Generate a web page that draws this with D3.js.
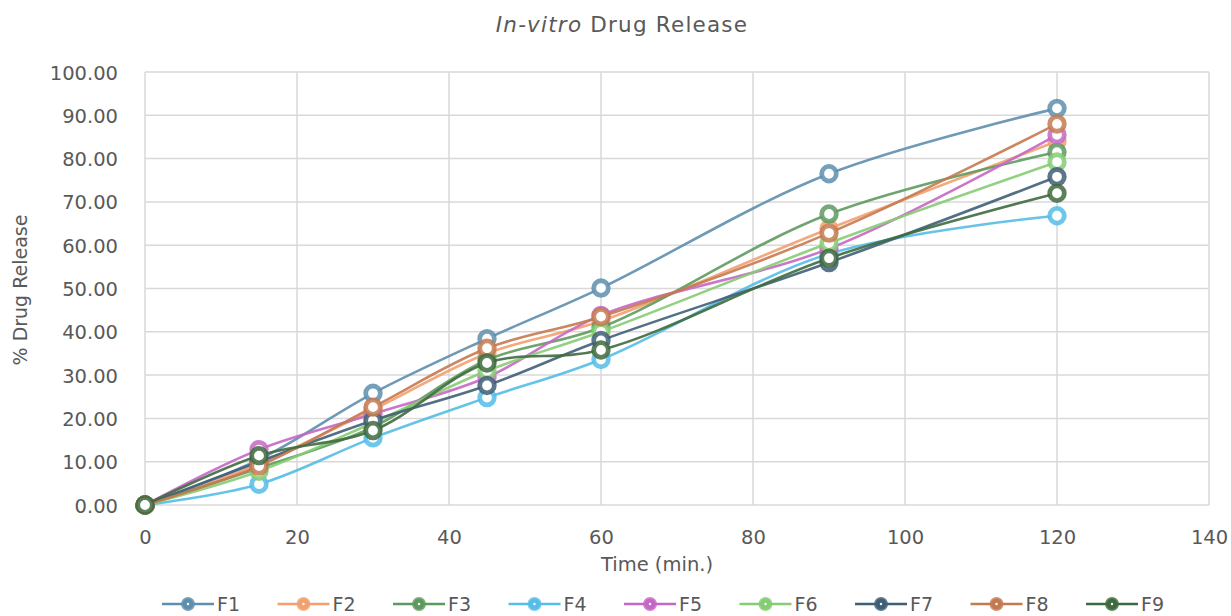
<!DOCTYPE html>
<html>
<head>
<meta charset="utf-8">
<script src="https://cdn.jsdelivr.net/npm/d3@7"></script>
<style>
  html, body { margin: 0; padding: 0; background: #fff; }
  svg text { font-family: "DejaVu Sans", "Open Sans", sans-serif; fill: #595959; }
</style>
</head>
<body>
<svg id="chart" width="1231" height="616"></svg>
<script>
// Sampling times (min.)
const time = [0, 15, 30, 45, 60, 90, 120];

// Cumulative % drug release for each formulation
const F1 = [0, 10.5, 25.8, 38.4, 50.1, 76.5, 91.6];
const F2 = [0, 9.5, 22.0, 35.0, 42.5, 63.8, 84.0];
const F3 = [0, 8.5, 18.0, 33.5, 41.0, 67.2, 81.5];
const F4 = [0, 4.8, 15.5, 24.8, 33.6, 58.0, 66.8];
const F5 = [0, 12.8, 21.0, 29.5, 43.8, 59.2, 85.5];
const F6 = [0, 7.8, 19.0, 31.0, 40.0, 60.5, 79.2];
const F7 = [0, 10.0, 19.5, 27.6, 38.0, 56.0, 75.8];
const F8 = [0, 9.0, 22.6, 36.2, 43.5, 62.8, 88.0];
const F9 = [0, 11.4, 17.2, 32.8, 35.8, 57.0, 72.0];

const seriesNames = ["F1", "F2", "F3", "F4", "F5", "F6", "F7", "F8", "F9"];
const seriesValues = [F1, F2, F3, F4, F5, F6, F7, F8, F9];
const seriesColors = ["#5e8fae", "#f2a070", "#5e9a5e", "#55bde6", "#c567c5",
                      "#86cc73", "#3f5f77", "#c47a50", "#3f6a3f"];

const xTicks = [0, 20, 40, 60, 80, 100, 120, 140];
const yTicks = [0, 10, 20, 30, 40, 50, 60, 70, 80, 90, 100];

const svg = d3.select("#chart");
const margin = { left: 145, right: 22, top: 72, bottom: 111 };
const W = 1231, H = 616;

const x = d3.scaleLinear().domain([0, 140]).range([margin.left, W - margin.right]);
const y = d3.scaleLinear().domain([0, 100]).range([H - margin.bottom, margin.top]);

// Gridlines
svg.append("g")
  .selectAll("line.h")
  .data(yTicks)
  .join("line")
  .attr("x1", x(0)).attr("x2", x(140))
  .attr("y1", d => y(d)).attr("y2", d => y(d))
  .attr("stroke", "#d9d9d9").attr("stroke-width", 1.5);

svg.append("g")
  .selectAll("line.v")
  .data(xTicks)
  .join("line")
  .attr("x1", d => x(d)).attr("x2", d => x(d))
  .attr("y1", y(0)).attr("y2", y(100))
  .attr("stroke", "#d9d9d9").attr("stroke-width", 1.5);

// Axes (labels only; the lines come from the grid)
const yAxis = svg.append("g")
  .attr("transform", `translate(${x(0) - 24},0)`)
  .call(d3.axisLeft(y).tickValues(yTicks).tickFormat(d3.format(".2f")).tickSize(0));
yAxis.select(".domain").remove();
yAxis.selectAll("text").attr("font-size", 19.5).attr("font-family", null).attr("dy", "0.36em");

const xAxis = svg.append("g")
  .attr("transform", `translate(0,${y(0) + 22})`)
  .call(d3.axisBottom(x).tickValues(xTicks).tickFormat(d3.format("d")).tickSize(0));
xAxis.select(".domain").remove();
xAxis.selectAll("text").attr("font-size", 19.5).attr("font-family", null);

// Title
const title = svg.append("text")
  .attr("x", 622).attr("y", 32)
  .attr("text-anchor", "middle")
  .attr("font-size", 21.5)
  .attr("letter-spacing", 1.2);
title.append("tspan").attr("font-style", "italic").text("In-vitro");
title.append("tspan").text(" Drug Release");

// Axis titles
svg.append("text")
  .attr("x", 657).attr("y", 571)
  .attr("text-anchor", "middle")
  .attr("font-size", 19.5)
  .text("Time (min.)");

svg.append("text")
  .attr("transform", `translate(27,290) rotate(-90)`)
  .attr("text-anchor", "middle")
  .attr("font-size", 19)
  .text("% Drug Release");

// Smoothed series lines and ring markers
const line = d3.line()
  .x((d, i) => x(time[i]))
  .y(d => y(d))
  .curve(d3.curveCatmullRom.alpha(0.5));

const seriesG = svg.append("g");
seriesValues.forEach((vals, k) => {
  const g = seriesG.append("g");
  g.append("path")
    .datum(vals)
    .attr("d", line)
    .attr("fill", "none")
    .attr("stroke", seriesColors[k])
    .attr("stroke-width", 2.6)
    .attr("stroke-opacity", 0.9);
  g.selectAll("circle")
    .data(vals)
    .join("circle")
    .attr("cx", (d, i) => x(time[i]))
    .attr("cy", d => y(d))
    .attr("r", 7.3)
    .attr("fill", "#fff")
    .attr("stroke", seriesColors[k])
    .attr("stroke-width", 4.8)
    .attr("stroke-opacity", 0.85);
});

// Legend
const legend = svg.append("g").attr("transform", `translate(0,604)`);
seriesNames.forEach((name, k) => {
  const x0 = 162 + k * 115.5;
  const item = legend.append("g").attr("transform", `translate(${x0},0)`);
  item.append("line")
    .attr("x1", 0).attr("x2", 52).attr("y1", 0).attr("y2", 0)
    .attr("stroke", seriesColors[k]).attr("stroke-width", 2.6);
  item.append("circle")
    .attr("cx", 26).attr("cy", 0).attr("r", 5.5)
    .attr("fill", seriesColors[k])
    .attr("stroke", seriesColors[k]).attr("stroke-width", 3)
    .attr("stroke-opacity", 0.8);
  item.append("circle")
    .attr("cx", 26).attr("cy", 0).attr("r", 1.2)
    .attr("fill", "#fff");
  item.append("text")
    .attr("x", 55).attr("y", 0).attr("dy", "0.36em")
    .attr("font-size", 19)
    .text(name);
});
</script>
</body>
</html>
